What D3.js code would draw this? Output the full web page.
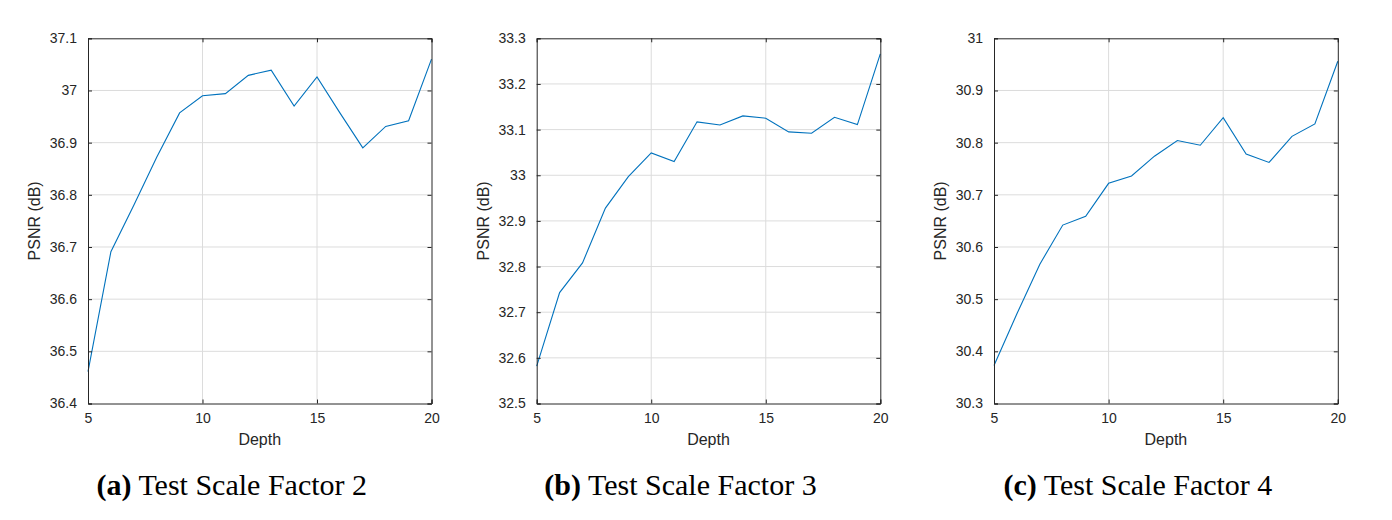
<!DOCTYPE html>
<html>
<head>
<meta charset="utf-8">
<script src="https://cdn.jsdelivr.net/npm/d3@7/dist/d3.min.js"></script>
<style>
  html, body { margin: 0; padding: 0; background: #fff; }
  svg { display: block; }
</style>
</head>
<body>
<svg id="chart" width="1392" height="520"></svg>
<script>
const depths = [5, 6, 7, 8, 9, 10, 11, 12, 13, 14, 15, 16, 17, 18, 19, 20];
const psnrScale2 = [36.461, 36.691, 36.780, 36.872, 36.957, 36.990, 36.994, 37.029, 37.039, 36.970, 37.026, 36.957, 36.890, 36.931, 36.942, 37.060];
const psnrScale3 = [32.582, 32.743, 32.808, 32.928, 32.997, 33.049, 33.030, 33.117, 33.110, 33.130, 33.125, 33.095, 33.092, 33.127, 33.111, 33.266];
const psnrScale4 = [30.373, 30.472, 30.567, 30.642, 30.659, 30.722, 30.736, 30.774, 30.804, 30.795, 30.848, 30.778, 30.762, 30.812, 30.836, 30.956];
const xTicks = [5, 10, 15, 20];
const yTicks2 = [36.4, 36.5, 36.6, 36.7, 36.8, 36.9, 37.0, 37.1];
const yTicks3 = [32.5, 32.6, 32.7, 32.8, 32.9, 33.0, 33.1, 33.2, 33.3];
const yTicks4 = [30.3, 30.4, 30.5, 30.6, 30.7, 30.8, 30.9, 31.0];
const captionTags = ["(a)", "(b)", "(c)"];
const captionTexts = ["Test Scale Factor 2", "Test Scale Factor 3", "Test Scale Factor 4"];
const xLabel = "Depth";
const yLabel = "PSNR (dB)";

const panels = [
  { values: psnrScale2, ticks: yTicks2, left: 88, right: 431.5 },
  { values: psnrScale3, ticks: yTicks3, left: 536.7, right: 880.3 },
  { values: psnrScale4, ticks: yTicks4, left: 994, right: 1337.8 }
];
const plotTop = 38.3, plotBottom = 403.5;
const svg = d3.select("#chart");
const fmt = d => d3.format("")(+d.toFixed(1));
const sans = "'Liberation Sans', Arial, sans-serif";

panels.forEach((p, i) => {
  const x = d3.scaleLinear().domain([5, 20]).range([p.left, p.right]);
  const y = d3.scaleLinear().domain([p.ticks[0], p.ticks[p.ticks.length - 1]]).range([plotBottom, plotTop]);
  const g = svg.append("g");

  // grid
  g.append("g").selectAll("line").data(xTicks.slice(1, -1)).join("line")
    .attr("x1", d => x(d)).attr("x2", d => x(d)).attr("y1", plotTop).attr("y2", plotBottom)
    .attr("stroke", "#dcdcdc").attr("stroke-width", 1);
  g.append("g").selectAll("line").data(p.ticks.slice(1, -1)).join("line")
    .attr("y1", d => y(d)).attr("y2", d => y(d)).attr("x1", p.left).attr("x2", p.right)
    .attr("stroke", "#dcdcdc").attr("stroke-width", 1);

  // data line
  const line = d3.line().x((d, k) => x(depths[k])).y(d => y(d));
  g.append("path").datum(p.values).attr("d", line)
    .attr("fill", "none").attr("stroke", "#0072BD").attr("stroke-width", 1.1);

  // axes (MATLAB-like box with inward ticks)
  const axColor = "#262626";
  const bx = g.append("g").attr("transform", `translate(0,${plotBottom})`)
    .call(d3.axisBottom(x).tickValues(xTicks).tickSize(-4).tickPadding(10).tickFormat(d3.format("d")));
  const tx = g.append("g").attr("transform", `translate(0,${plotTop})`)
    .call(d3.axisTop(x).tickValues(xTicks).tickSize(-4).tickFormat(""));
  const ly = g.append("g").attr("transform", `translate(${p.left},0)`)
    .call(d3.axisLeft(y).tickValues(p.ticks).tickSize(-4).tickPadding(11).tickFormat(fmt));
  const ry = g.append("g").attr("transform", `translate(${p.right},0)`)
    .call(d3.axisRight(y).tickValues(p.ticks).tickSize(-4).tickFormat(""));
  [bx, tx, ly, ry].forEach(a => {
    a.select(".domain").attr("stroke", axColor).attr("stroke-width", 1);
    a.selectAll(".tick line").attr("stroke", axColor);
    a.selectAll("text").attr("fill", "#262626")
      .style("font-family", sans).style("font-size", "14px");
  });

  // labels
  g.append("text").attr("x", (p.left + p.right) / 2).attr("y", 445)
    .attr("text-anchor", "middle").attr("fill", "#262626")
    .style("font-family", sans).style("font-size", "16px")
    .text(xLabel);
  g.append("text")
    .attr("transform", `translate(${p.left - 48},${(plotTop + plotBottom) / 2}) rotate(-90)`)
    .attr("text-anchor", "middle").attr("fill", "#262626")
    .style("font-family", sans).style("font-size", "16px")
    .text(yLabel);

  // caption
  const cap = g.append("text").attr("x", (p.left + p.right) / 2 - 28).attr("y", 495)
    .attr("text-anchor", "middle").attr("fill", "#000")
    .style("font-family", "'Liberation Serif', 'Times New Roman', serif").style("font-size", "30px");
  cap.append("tspan").attr("font-weight", "bold").text(captionTags[i]);
  cap.append("tspan").text(" " + captionTexts[i]);
});
</script>
</body>
</html>
